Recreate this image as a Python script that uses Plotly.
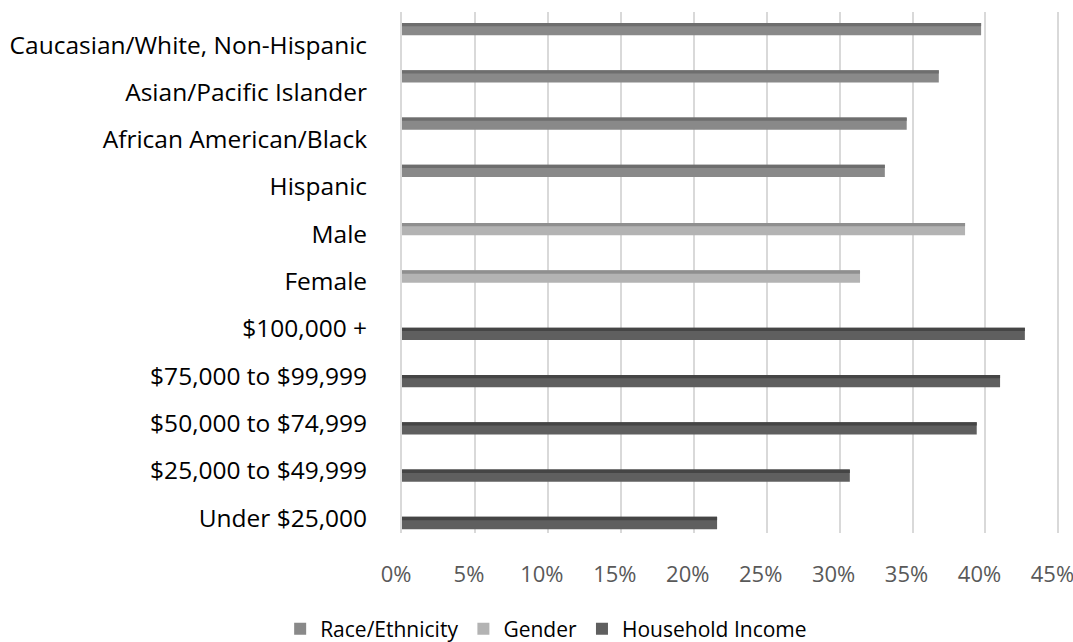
import plotly.graph_objects as go

categories = [
    "Caucasian/White, Non-Hispanic",
    "Asian/Pacific Islander",
    "African American/Black",
    "Hispanic",
    "Male",
    "Female",
    "$100,000 +",
    "$75,000 to $99,999",
    "$50,000 to $74,999",
    "$25,000 to $49,999",
    "Under $25,000",
]
race_ethnicity = [0.397, 0.368, 0.346, 0.331, None, None, None, None, None, None, None]
gender = [None, None, None, None, 0.386, 0.314, None, None, None, None, None]
household_income = [None, None, None, None, None, None, 0.427, 0.410, 0.394, 0.307, 0.216]

series = [
    ("Race/Ethnicity", race_ethnicity, "#898989", "#6e6e6e", -0.338),
    ("Gender", gender, "#b3b3b3", "#8f8f8f", -0.106),
    ("Household Income", household_income, "#5f5f5f", "#454545", 0.106),
]

BAR_W = 0.26
TOP_W = 0.07

fig = go.Figure()
for name, vals, face, top, center in series:
    fig.add_trace(go.Bar(
        y=categories, x=vals, orientation="h", name=name,
        marker=dict(color=face, line=dict(width=0)),
        width=BAR_W, offset=center - BAR_W / 2,
    ))
for name, vals, face, top, center in series:
    fig.add_trace(go.Bar(
        y=categories, x=vals, orientation="h", name=name + " top",
        marker=dict(color=top, line=dict(width=0)),
        width=TOP_W, offset=center - BAR_W / 2,
        showlegend=False, hoverinfo="skip",
    ))

fig.update_layout(
    width=1073, height=642,
    margin=dict(l=402, r=0, t=12, b=109, autoexpand=False),
    paper_bgcolor="white", plot_bgcolor="white",
    barmode="overlay",
    font=dict(family="Open Sans", size=21, color="#000000"),
    legend=dict(
        orientation="h", xref="container", yref="container",
        x=0.509, xanchor="center", y=1 - 629 / 642, yanchor="middle",
        font=dict(size=21, color="#000000"),
        traceorder="normal",
    ),
    showlegend=True,
)
fig.update_xaxes(
    range=[0, 0.46], tickvals=[0, 0.05, 0.10, 0.15, 0.20, 0.25, 0.30, 0.35, 0.40, 0.45],
    tickformat=".0%",
    showgrid=True, gridcolor="#d9d9d9", gridwidth=2,
    zeroline=False, showline=False, automargin=False,
    tickfont=dict(size=22, color="#595959"),
    ticks="", ticklabelstandoff=26, ticklabelshift=-6,
    ticklabeloverflow="allow",
)
fig.update_yaxes(
    categoryorder="array", categoryarray=categories,
    range=[10.317, -0.698], automargin=False,
    showgrid=False, zeroline=False,
    showline=True, linecolor="#d9d9d9", linewidth=2,
    tickfont=dict(size=24.5, color="#000000"),
    ticks="", ticklabelstandoff=28,
)

fig.write_html(
    "out.html",
    config={"displayModeBar": False},
    post_script="document.body.style.margin='0';document.body.style.overflow='hidden';",
)
